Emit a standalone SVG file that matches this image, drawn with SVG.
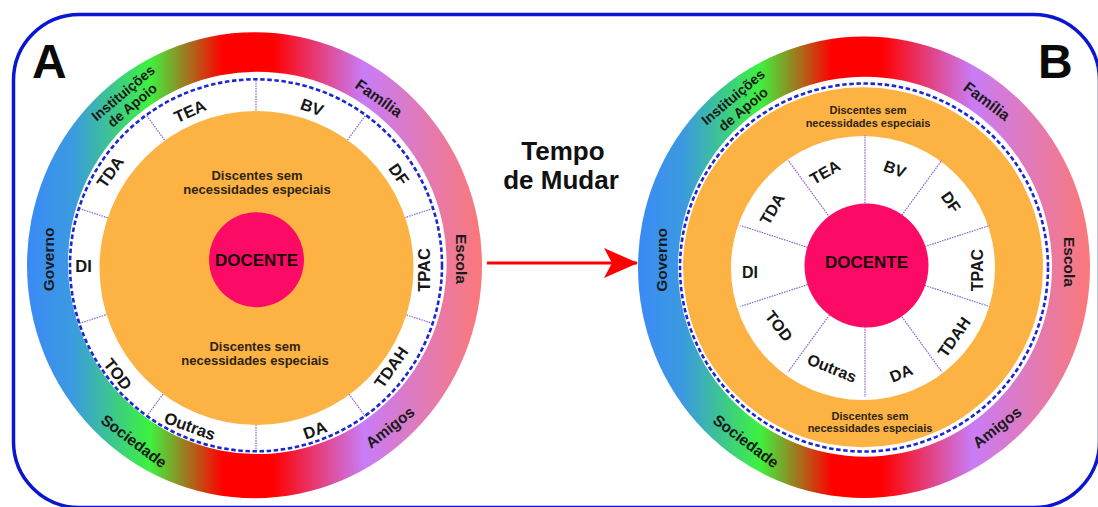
<svg xmlns="http://www.w3.org/2000/svg" width="1098" height="507" viewBox="0 0 1098 507">
<defs>
<linearGradient id="ringGrad" x1="0" y1="0" x2="1" y2="0">
<stop offset="0" stop-color="#3a8af6"/>
<stop offset="0.1" stop-color="#3b9ae0"/>
<stop offset="0.27" stop-color="#3ef23e"/>
<stop offset="0.43" stop-color="#ff0000"/>
<stop offset="0.54" stop-color="#ff0000"/>
<stop offset="0.74" stop-color="#c87cf6"/>
<stop offset="1" stop-color="#fb7878"/>
</linearGradient>
<marker id="arrowHead" viewBox="0 0 34 30" refX="33" refY="15" markerWidth="34" markerHeight="30" markerUnits="userSpaceOnUse" orient="auto">
<path d="M34,15 L0,0 L8,15 L0,30 Z" fill="#ff0000"/>
</marker>
</defs>
<style>
.seg{font-family:"Liberation Sans",Arial,sans-serif;font-weight:bold;font-size:16.5px;fill:#161616;text-anchor:middle}
.segB{font-family:"Liberation Sans",Arial,sans-serif;font-weight:bold;font-size:16px;fill:#161616;text-anchor:middle}
.ring{font-family:"Liberation Sans",Arial,sans-serif;font-weight:bold;font-size:15.5px;fill:#1a1a1a;text-anchor:middle}
.ringS{font-family:"Liberation Sans",Arial,sans-serif;font-weight:bold;font-size:14px;fill:#1a1a1a;text-anchor:middle}
.disc{font-family:"Liberation Sans",Arial,sans-serif;font-weight:bold;font-size:13px;fill:#2d2414;text-anchor:middle}
.discB{font-family:"Liberation Sans",Arial,sans-serif;font-weight:bold;font-size:11px;fill:#2d2414;text-anchor:middle}
.doc{font-family:"Liberation Sans",Arial,sans-serif;font-weight:bold;font-size:17px;fill:#1a0508;text-anchor:middle}
.big{font-family:"Liberation Sans",Arial,sans-serif;font-weight:bold;font-size:48px;fill:#0a0a0a}
.title{font-family:"Liberation Sans",Arial,sans-serif;font-weight:bold;font-size:26px;fill:#111111;text-anchor:middle}
.dv{stroke:#8e68cc;stroke-width:1.2;stroke-dasharray:1.6 1}
.dash{fill:none;stroke:#1b27d2;stroke-width:2.6;stroke-dasharray:4.5 2.6}
.orange{fill:#fdb244}
.pink{fill:#fc0b66}
</style>
<rect width="1098" height="507" fill="#ffffff"/>
<g id="frame">
<rect x="13.5" y="14.5" width="1086" height="493" rx="66" ry="66" fill="none" stroke="#0b16d0" stroke-width="3.5"/>
</g>

<g id="panelA">
<ellipse cx="254.5" cy="265.3" rx="227.5" ry="233" fill="url(#ringGrad)"/>
<ellipse cx="257.3" cy="262.9" rx="189.3" ry="191.2" fill="#ffffff"/>
<g id="dividersA">
<line class="dv" x1="256" y1="126" x2="256" y2="80"/>
<line class="dv" x1="338.3" y1="152.7" x2="365.3" y2="115.5"/>
<line class="dv" x1="389.2" y1="222.7" x2="432.9" y2="208.5"/>
<line class="dv" x1="389.2" y1="309.3" x2="432.9" y2="323.5"/>
<line class="dv" x1="338.3" y1="379.3" x2="365.3" y2="416.5"/>
<line class="dv" x1="256" y1="406" x2="256" y2="452"/>
<line class="dv" x1="173.7" y1="379.3" x2="146.7" y2="416.5"/>
<line class="dv" x1="122.8" y1="309.3" x2="79.1" y2="323.5"/>
<line class="dv" x1="122.8" y1="222.7" x2="79.1" y2="208.5"/>
<line class="dv" x1="173.7" y1="152.7" x2="146.7" y2="115.5"/>
</g>
<circle class="orange" cx="256.5" cy="268" r="157"/>
<circle class="dash" cx="256" cy="265.3" r="186"/>
<g id="nodeA-docente">
<circle class="pink" cx="256.5" cy="259.7" r="47.5"/>
<text class="doc" x="256.5" y="266">DOCENTE</text>
</g>
<g id="nodeA-discentes-top">
<text class="disc" x="257" y="180">Discentes sem</text>
<text class="disc" x="257" y="193.5">necessidades especiais</text>
</g>
<g id="nodeA-discentes-bottom">
<text class="disc" x="255" y="351">Discentes sem</text>
<text class="disc" x="255" y="364.5">necessidades especiais</text>
</g>
<g id="nodeA-segments">
<text class="seg" dy="0.36em" transform="translate(190,111) rotate(-24)">TEA</text>
<text class="seg" dy="0.36em" transform="translate(312,107) rotate(20)">BV</text>
<text class="seg" dy="0.36em" transform="translate(399,174) rotate(55)">DF</text>
<text class="seg" dy="0.36em" transform="translate(424,270) rotate(-90)">TPAC</text>
<text class="seg" dy="0.36em" transform="translate(391,367) rotate(-55)">TDAH</text>
<text class="seg" dy="0.36em" transform="translate(315,430) rotate(-20)">DA</text>
<text class="seg" dy="0.36em" transform="translate(190,426) rotate(20)">Outras</text>
<text class="seg" dy="0.36em" transform="translate(118,374) rotate(52)">TOD</text>
<text class="seg" dy="0.36em" transform="translate(83.5,266)">DI</text>
<text class="seg" dy="0.36em" transform="translate(110,172) rotate(-55)">TDA</text>
</g>
<g id="nodeA-ring">
<text class="ringS" dy="0.36em" transform="translate(123,93) rotate(-40)">Instituições</text>
<text class="ringS" dy="0.36em" transform="translate(132,105) rotate(-40)">de Apoio</text>
<text class="ring" dy="0.36em" transform="translate(379,98) rotate(35)">Família</text>
<text class="ring" dy="0.36em" transform="translate(462,259) rotate(90)">Escola</text>
<text class="ring" dy="0.36em" transform="translate(48,259.5) rotate(-90)">Governo</text>
<text class="ring" dy="0.36em" transform="translate(390,427) rotate(-38)">Amigos</text>
<text class="ring" dy="0.36em" transform="translate(134,441) rotate(37)">Sociedade</text>
</g>
<text class="big" x="32" y="78">A</text>
</g>

<g id="panelB">
<ellipse cx="864" cy="267.3" rx="226" ry="230.7" fill="url(#ringGrad)"/>
<ellipse cx="865" cy="266.7" rx="187" ry="190" fill="#ffffff"/>
<circle class="orange" cx="863" cy="267.3" r="180"/>
<circle class="dash" cx="864" cy="267.5" r="184"/>
<circle cx="863" cy="268" r="132" fill="#ffffff"/>
<g id="dividersB">
<line class="dv" x1="865" y1="211" x2="865" y2="135"/>
<line class="dv" x1="897.3" y1="221.5" x2="942" y2="160"/>
<line class="dv" x1="917.3" y1="249" x2="989.6" y2="225.5"/>
<line class="dv" x1="917.3" y1="283" x2="989.6" y2="306.5"/>
<line class="dv" x1="897.3" y1="310.5" x2="942" y2="372"/>
<line class="dv" x1="865" y1="321" x2="865" y2="397"/>
<line class="dv" x1="832.7" y1="310.5" x2="788" y2="372"/>
<line class="dv" x1="812.7" y1="283" x2="740.4" y2="306.5"/>
<line class="dv" x1="812.7" y1="249" x2="740.4" y2="225.5"/>
<line class="dv" x1="832.7" y1="221.5" x2="788" y2="160"/>
</g>
<g id="nodeB-docente">
<circle class="pink" cx="866.5" cy="265.5" r="62"/>
<text class="doc" x="866.5" y="268">DOCENTE</text>
</g>
<g id="nodeB-discentes-top">
<text class="discB" x="868" y="114">Discentes sem</text>
<text class="discB" x="868" y="127">necessidades especiais</text>
</g>
<g id="nodeB-discentes-bottom">
<text class="discB" x="870" y="420">Discentes sem</text>
<text class="discB" x="870" y="432">necessidades especiais</text>
</g>
<g id="nodeB-segments">
<text class="segB" dy="0.36em" transform="translate(825,172) rotate(-30)">TEA</text>
<text class="segB" dy="0.36em" transform="translate(895,169) rotate(20)">BV</text>
<text class="segB" dy="0.36em" transform="translate(951,202) rotate(55)">DF</text>
<text class="segB" dy="0.36em" transform="translate(977,270) rotate(-90)">TPAC</text>
<text class="segB" dy="0.36em" transform="translate(954,337) rotate(-55)">TDAH</text>
<text class="segB" dy="0.36em" transform="translate(901,373) rotate(-22)">DA</text>
<text class="segB" dy="0.36em" transform="translate(832,368) rotate(22)">Outras</text>
<text class="segB" dy="0.36em" transform="translate(779,326) rotate(52)">TOD</text>
<text class="segB" dy="0.36em" transform="translate(750,272)">DI</text>
<text class="segB" dy="0.36em" transform="translate(772,209) rotate(-60)">TDA</text>
</g>
<g id="nodeB-ring">
<text class="ringS" dy="0.36em" transform="translate(733,97) rotate(-40)">Instituições</text>
<text class="ringS" dy="0.36em" transform="translate(743,109) rotate(-40)">de Apoio</text>
<text class="ring" dy="0.36em" transform="translate(987,101) rotate(37)">Família</text>
<text class="ring" dy="0.36em" transform="translate(1070,262) rotate(90)">Escola</text>
<text class="ring" dy="0.36em" transform="translate(661,260) rotate(-90)">Governo</text>
<text class="ring" dy="0.36em" transform="translate(997,427) rotate(-38)">Amigos</text>
<text class="ring" dy="0.36em" transform="translate(746,441) rotate(37)">Sociedade</text>
</g>
<text class="big" x="1038" y="78">B</text>
</g>

<g id="label-tempo">
<text class="title" x="563" y="160">Tempo</text>
<text class="title" x="561" y="189">de Mudar</text>
</g>

<g id="connectors">
<line x1="487" y1="263" x2="637" y2="263" stroke="#ff0000" stroke-width="3" marker-end="url(#arrowHead)"/>
</g>
</svg>
